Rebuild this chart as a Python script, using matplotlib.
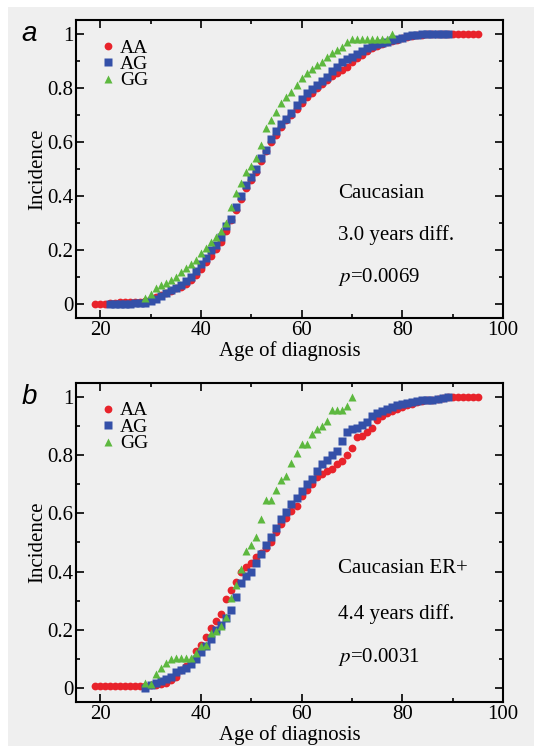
import matplotlib
matplotlib.use("Agg")
import matplotlib.pyplot as plt
from matplotlib.patches import Rectangle
from matplotlib.ticker import MultipleLocator

# ---- panel a : Caucasian ----
age_aa_a = list(range(19, 96))
inc_aa_a = [0, 0, 0, 0.005, 0.005, 0.01, 0.01, 0.01, 0.01, 0.01,
            0.012, 0.02, 0.028, 0.035, 0.042, 0.05, 0.06, 0.065, 0.075, 0.09,
            0.11, 0.13, 0.155, 0.18, 0.205, 0.23, 0.27, 0.31, 0.35, 0.39,
            0.43, 0.46, 0.49, 0.53, 0.565, 0.6, 0.625, 0.655, 0.68, 0.70,
            0.72, 0.745, 0.765, 0.78, 0.80, 0.815, 0.83, 0.845, 0.855, 0.865,
            0.875, 0.895, 0.91, 0.92, 0.935, 0.945, 0.955, 0.962, 0.968, 0.972,
            0.978, 0.982, 0.988, 0.99, 0.993, 0.996, 0.998, 1, 1, 1,
            1, 1, 1, 1, 1, 1, 1]
age_ag_a = list(range(22, 90))
inc_ag_a = [0.002, 0.002, 0.003, 0.003, 0.003, 0.004, 0.004,
            0.005, 0.012, 0.02, 0.03, 0.042, 0.052, 0.062, 0.072, 0.085, 0.1,
            0.125, 0.15, 0.17, 0.2, 0.22, 0.25, 0.29, 0.315, 0.36, 0.4,
            0.44, 0.47, 0.5, 0.54, 0.57, 0.61, 0.64, 0.665, 0.685, 0.705,
            0.735, 0.76, 0.78, 0.795, 0.81, 0.825, 0.84, 0.86, 0.875, 0.895,
            0.905, 0.915, 0.925, 0.935, 0.945, 0.955, 0.96, 0.965, 0.97, 0.975,
            0.98, 0.985, 0.99, 0.993, 0.995, 0.997, 1, 1, 1, 1, 1]
age_gg_a = list(range(29, 79))
inc_gg_a = [0.025, 0.04, 0.06, 0.07, 0.08, 0.09, 0.1, 0.12, 0.135, 0.15,
            0.165, 0.19, 0.21, 0.23, 0.25, 0.27, 0.30, 0.36, 0.41, 0.45,
            0.49, 0.51, 0.54, 0.59, 0.65, 0.68, 0.71, 0.745, 0.765, 0.785,
            0.81, 0.835, 0.855, 0.87, 0.883, 0.895, 0.915, 0.93, 0.938, 0.95,
            0.97, 0.98, 0.98, 0.98, 0.98, 0.98, 0.98, 0.98, 0.98, 1.0]

# ---- panel b : Caucasian ER+ ----
age_aa_b = list(range(19, 96))
inc_aa_b = [0.005, 0.005, 0.005, 0.005, 0.005, 0.005, 0.005, 0.005, 0.005, 0.005,
            0.005, 0.007, 0.008, 0.012, 0.016, 0.025, 0.037, 0.06, 0.074, 0.089,
            0.125, 0.148, 0.175, 0.205, 0.228, 0.255, 0.305, 0.335, 0.365, 0.4,
            0.415, 0.43, 0.45, 0.465, 0.48, 0.5, 0.535, 0.565, 0.585, 0.607,
            0.626, 0.659, 0.682, 0.703, 0.725, 0.737, 0.745, 0.755, 0.77, 0.78,
            0.80, 0.825, 0.863, 0.868, 0.88, 0.895, 0.924, 0.935, 0.945, 0.952,
            0.96, 0.967, 0.973, 0.979, 0.983, 0.987, 0.99, 0.993, 0.995, 0.997,
            1, 1, 1, 1, 1, 1, 1]
age_ag_b = list(range(29, 90))
inc_ag_b = [0.0, 0.008, 0.014, 0.023, 0.031, 0.037, 0.054, 0.06, 0.069, 0.081,
            0.097, 0.123, 0.143, 0.169, 0.198, 0.216, 0.239, 0.267, 0.313, 0.362,
            0.385, 0.40, 0.43, 0.46, 0.49, 0.52, 0.55, 0.58, 0.606, 0.632,
            0.655, 0.678, 0.70, 0.72, 0.745, 0.77, 0.786, 0.80, 0.815, 0.85,
            0.88, 0.89, 0.895, 0.905, 0.917, 0.935, 0.946, 0.952, 0.96, 0.966,
            0.973, 0.978, 0.982, 0.986, 0.988, 0.99, 0.99, 0.993, 0.995, 0.998, 1.0]
age_gg_b = list(range(29, 71))
inc_gg_b = [0.014, 0.012, 0.048, 0.066, 0.083, 0.097, 0.103, 0.103, 0.103, 0.103,
            0.118, 0.144, 0.146, 0.187, 0.195, 0.212, 0.244, 0.308, 0.354, 0.41,
            0.47, 0.49, 0.52, 0.58, 0.645, 0.645, 0.68, 0.715, 0.73, 0.775,
            0.81, 0.84, 0.84, 0.875, 0.89, 0.9, 0.92, 0.957, 0.957, 0.957,
            0.97, 1.0]

panels = [
    ("a", [0.1423, 0.5777, 0.7996, 0.3957],
     (age_aa_a, inc_aa_a), (age_ag_a, inc_ag_a), (age_gg_a, inc_gg_a),
     ["Caucasian", "3.0 years diff.", "0.0069"], [0.41, 0.255, 0.10]),
    ("b", [0.1423, 0.0677, 0.7996, 0.4237],
     (age_aa_b, inc_aa_b), (age_ag_b, inc_ag_b), (age_gg_b, inc_gg_b),
     ["Caucasian ER+", "4.4 years diff.", "0.0031"], [0.41, 0.255, 0.105]),
]

bg = "#efefef"
serif = ["Liberation Serif", "DejaVu Serif"]
plt.rcParams["font.family"] = serif
plt.rcParams["mathtext.fontset"] = "stix"
fs = 15

fig = plt.figure(figsize=(5.34, 7.53), dpi=100)
fig.patch.set_facecolor("white")
fig.patches.append(Rectangle((8 / 534, 7 / 753), 526 / 534, 739 / 753,
                             transform=fig.transFigure, facecolor=bg,
                             edgecolor="none", zorder=-10))

for letter, rect, aa, ag, gg, notes, ny in panels:
    ax = fig.add_axes(rect)
    ax.set_facecolor(bg)
    ax.plot(aa[0], aa[1], "o", color="#e8232b", ms=5.6, mec="none", label="AA", zorder=3)
    ax.plot(ag[0], ag[1], "s", color="#3450a8", ms=5.2, mec="none", label="AG", zorder=4)
    ax.plot(gg[0], gg[1], "^", color="#5db83f", ms=6.4, mec="none", label="GG", zorder=5)

    ax.set_xlim(15.2, 100)
    ax.set_ylim(-0.05, 1.05)
    ax.xaxis.set_major_locator(MultipleLocator(20))
    ax.xaxis.set_minor_locator(MultipleLocator(10))
    ax.yaxis.set_minor_locator(MultipleLocator(0.1))
    ax.set_yticks([0, 0.2, 0.4, 0.6, 0.8, 1.0])
    ax.set_yticklabels(["0", "0.2", "0.4", "0.6", "0.8", "1"])
    ax.tick_params(which="both", direction="in", top=True, right=True,
                   labelsize=fs, width=1.2, pad=2)
    ax.tick_params(which="major", length=6)
    ax.tick_params(which="minor", length=3)
    for s in ax.spines.values():
        s.set_linewidth(1.5)

    ax.set_xlabel("Age of diagnosis", fontsize=fs, labelpad=1)
    ax.set_ylabel("Incidence", fontsize=fs, labelpad=0)

    h = rect[3] * 753
    ax.legend(loc="upper left", bbox_to_anchor=(0.055, 1 - 15 / h), frameon=False,
              fontsize=14, handlelength=0.5, handletextpad=0.35,
              labelspacing=-0.06, borderpad=0.2, borderaxespad=0)

    ax.text(67.2, ny[0], notes[0], fontsize=fs, va="center")
    ax.text(67.2, ny[1], notes[1], fontsize=fs, va="center")
    ax.text(67.2, ny[2], r"$p$=" + notes[2], fontsize=fs, va="center")

    fig.text(0.04, rect[1] + rect[3] - 0.018, letter, fontsize=20, style="italic",
             family=["Liberation Sans", "DejaVu Sans"], va="center")

fig.savefig("out.png", dpi=100)
